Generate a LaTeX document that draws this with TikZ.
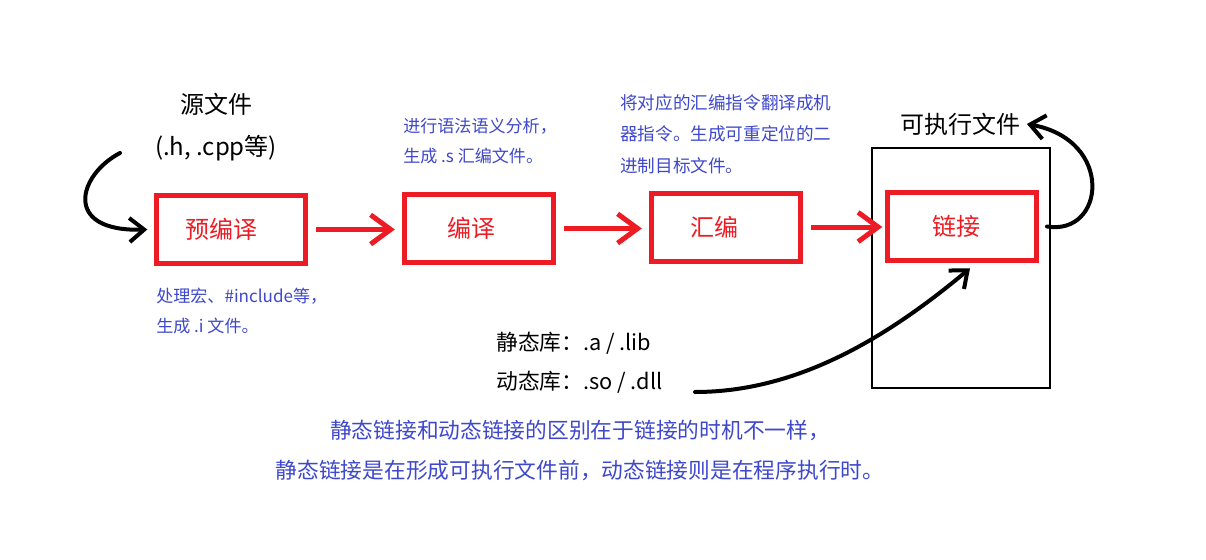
\documentclass[tikz,border=0pt]{standalone}
\usepackage{fontspec}
\setmainfont{Noto Sans CJK SC}
\usetikzlibrary{arrows.meta}
\definecolor{pred}{RGB}{237,28,36}
\definecolor{pblue}{RGB}{63,72,204}
\begin{document}
\begin{tikzpicture}[x=0.75pt,y=-0.75pt,
  stage/.style={draw=pred, line width=3.75pt, minimum width=111.75pt, minimum height=51pt,
    text=pred, font=\fontsize{18}{20}\selectfont, inner sep=0pt},
  frame/.style={draw=black, line width=1pt, minimum width=133.5pt, minimum height=180pt, inner sep=0pt},
  redarrow/.style={draw=pred, line width=3.75pt, -{Straight Barb[length=15pt,width=22pt]}},
  hand/.style={draw=black, line width=3pt, line cap=round, line join=round,
    -{Straight Barb[length=11pt,width=18pt]}},
  note/.style={text=pblue, align=left, inner sep=0pt, font=\fontsize{12.8}{22.5}\selectfont},
  label/.style={text=black, inner sep=0pt},
]
\useasboundingbox (0,0) rectangle (1206,560);
\fill[white] (0,0) rectangle (1206,560);

% outer frame of executable
\node[frame] (outer) at (961,268) {};

% stages
\node[stage] (pre)  at (231,229.5) {预编译\hspace*{15pt}};
\node[stage] (comp) at (478.5,228.5) {编译\hspace*{10pt}};
\node[stage] (asm)  at (725.5,227) {汇编\hspace*{17pt}};
\node[stage] (link) at (962,226.5) {链接\hspace*{9pt}};

% red arrows
\draw[redarrow] ([xshift=6pt]pre.east) -- ([xshift=-5pt]comp.west |- pre.east);
\draw[redarrow] ([xshift=6pt]comp.east) -- ([xshift=-5pt]asm.west |- comp.east);
\draw[redarrow] ([xshift=6pt]asm.east) -- ([xshift=-2pt]link.west |- asm.east);

% labels
\node[label, align=center, font=\fontsize{18}{31.5}\selectfont] (src) at (216,127) {源文件\\(.h, .cpp等)};
\node[label, font=\fontsize{18}{20}\selectfont] (exe) at (960,124) {可执行文件};
\node[label, anchor=west, align=left, font=\fontsize{16.3}{29}\selectfont] (libs) at (496,363)
  {静态库：.a / .lib\\动态库：.so / .dll};

% notes
\node[note, anchor=west] (n1) at (156,311) {处理宏、\#include等，\\生成 .i 文件。};
\node[note, anchor=west] (n2) at (403,141) {进行语法语义分析，\\生成 .s 汇编文件。};
\node[note, anchor=west, font=\fontsize{13.2}{23.6}\selectfont] (n3) at (620,134)
  {将对应的汇编指令翻译成机\\器指令。生成可重定位的二\\进制目标文件。};
\node[note, align=center, font=\fontsize{16.3}{30}\selectfont] (sum) at (580,450)
  {静态链接和动态链接的区别在于链接的时机不一样，\\静态链接是在形成可执行文件前，动态链接则是在程序执行时。};

% hand-drawn black arrows
\coordinate (s1) at (120,153);
\draw[hand] (s1) .. controls (78,175) and (62,232) .. ([xshift=-5pt]pre.west);
\draw[hand] ([xshift=6pt]link.east) .. controls (1105,236) and (1115,140) .. ([xshift=5pt]exe.east);
\coordinate (d1) at (695,392);
\draw[hand] (d1) .. controls (800,392) and (890,335) .. ([xshift=6pt,yshift=-4pt]link.south);
\end{tikzpicture}
\end{document}
